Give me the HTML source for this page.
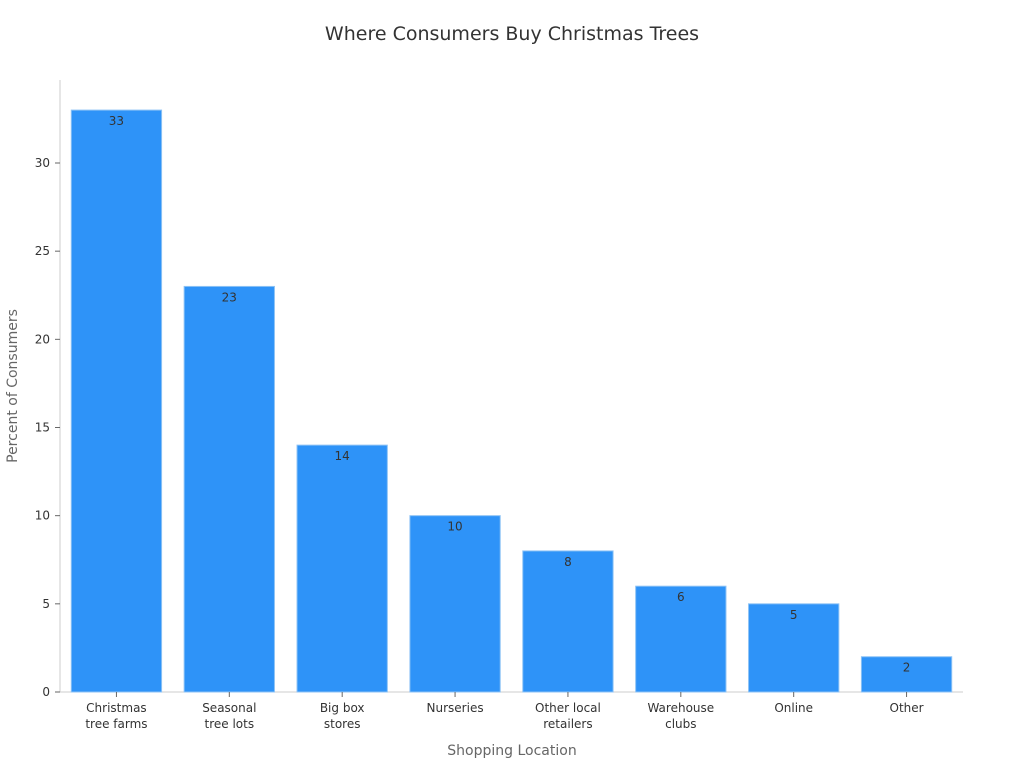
<!DOCTYPE html>
<html><head><meta charset="utf-8"><style>
body{margin:0;background:#fff;font-family:"Liberation Sans","DejaVu Sans",sans-serif;}
svg text{font-family:"DejaVu Sans","Liberation Sans",sans-serif;}
</style></head><body>
<svg id="chart" width="1024" height="768">
<text x="512" y="40" text-anchor="middle" font-size="19" fill="#333">Where Consumers Buy Christmas Trees</text>
<text x="512" y="755" text-anchor="middle" font-size="14" fill="#666">Shopping Location</text>
<text transform="translate(17,386) rotate(-90)" text-anchor="middle" font-size="14" fill="#666">Percent of Consumers</text>
<g id="grid"></g>
</svg>
<script>
const categories=[["Christmas","tree farms"],["Seasonal","tree lots"],["Big box","stores"],["Nurseries"],["Other local","retailers"],["Warehouse","clubs"],["Online"],["Other"]];
const values=[33,23,14,10,8,6,5,2];
const yTicks=[0,5,10,15,20,25,30];
const svg=document.getElementById('chart');
const NS='http://www.w3.org/2000/svg';
const x0=60,x1=963,yBase=692,yTop=80;
const yScale=v=>yBase-v*(163-692)/-30;
const band=(x1-x0)/categories.length;
const xCenter=i=>x0+band*(i+0.5);
function mk(t,a){const e=document.createElementNS(NS,t);for(const k in a)e.setAttribute(k,a[k]);svg.appendChild(e);return e;}
let e=mk('line',{x1:x0,y1:yTop,x2:x0,y2:yBase,stroke:'#ccc'});


e=mk('line',{x1:x0,y1:yBase,x2:x1,y2:yBase,stroke:'#ccc'});


yTicks.forEach(v=>{
 const y=yScale(v);
 let t=mk('line',{x1:x0-5,y1:y,x2:x0,y2:y,stroke:'#666'});
 
 
 let l=mk('text',{x:x0-10,y:y+4,'text-anchor':'end','font-size':12,fill:'#333'});
 l.textContent=v;
 
 
});
const bw=band*0.8;
values.forEach((v,i)=>{
 const cx=xCenter(i),y=yScale(v);
 let r=mk('rect',{x:cx-bw/2,y:y,width:bw,height:yBase-y,fill:'#2e93f8',stroke:'#8cc2f5','stroke-width':1});
 
 
 let t=mk('text',{x:cx,y:y+15,'text-anchor':'middle','font-size':12,fill:'#333'});
 t.textContent=v;
 
 
 let tk=mk('line',{x1:cx,y1:yBase,x2:cx,y2:yBase+5,stroke:'#666'});
 
 
 categories[i].forEach((s,j)=>{
  let c=mk('text',{x:cx,y:yBase+20+j*16,'text-anchor':'middle','font-size':12,fill:'#333'});
  c.textContent=s;
  
  
 });
});
</script>
</body></html>
